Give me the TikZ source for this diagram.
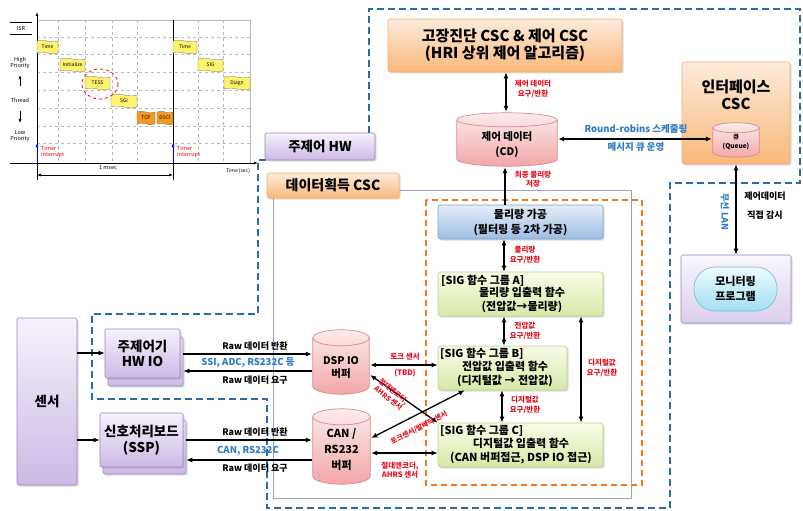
\documentclass[tikz,border=0pt]{standalone}
\usepackage{fontspec}
\setmainfont{Noto Sans CJK KR}
\usetikzlibrary{arrows.meta,calc,shadows}

\definecolor{orT}{HTML}{FDEBDB}
\definecolor{orB}{HTML}{F9B87A}
\definecolor{orD}{HTML}{F0B070}
\definecolor{puT}{HTML}{F6F2FB}
\definecolor{puB}{HTML}{CBBAE5}
\definecolor{puD}{HTML}{9A86C2}
\definecolor{blT}{HTML}{E6EEF8}
\definecolor{blB}{HTML}{9DBDE3}
\definecolor{blD}{HTML}{7A9FD0}
\definecolor{grT}{HTML}{F9FCE8}
\definecolor{grB}{HTML}{D6E9A6}
\definecolor{grD}{HTML}{BCD18C}
\definecolor{pkT}{HTML}{FDECEC}
\definecolor{pkB}{HTML}{F2A6A6}
\definecolor{pkD}{HTML}{D98A8A}
\definecolor{cyT}{HTML}{EDFBFF}
\definecolor{cyB}{HTML}{A2E0EE}
\definecolor{cyD}{HTML}{74B9CC}
\definecolor{dashblue}{HTML}{2A6CAA}
\definecolor{dashorange}{HTML}{F47A1F}
\definecolor{framegray}{HTML}{A29DC6}
\definecolor{labred}{HTML}{E8101E}
\definecolor{labblue}{HTML}{2E7BC4}
\definecolor{flagY}{HTML}{FFF36E}
\definecolor{flagO}{HTML}{F59A1A}

\newcommand\fsz[2]{\fontsize{#1}{#2}\selectfont}
\newcommand\tflag[7]{%
  \filldraw[fill=#5, draw=black!55, line width=0.3pt] (#1,#2) .. controls ({#1+(#3-#1)/3},{#2-3}) and ({#1+2*(#3-#1)/3},{#2+3}) .. (#3,#2) -- (#3,#4) .. controls ({#1+2*(#3-#1)/3},{#4+3}) and ({#1+(#3-#1)/3},{#4-3}) .. (#1,#4) -- cycle;
  \node[flagtxt] (#6) at ({(#1+#3)/2},{(#2+#4)/2}) {#7};}

\tikzset{
  shad/.style={drop shadow={opacity=0.28,shadow xshift=1.5pt,shadow yshift=-1.5pt}},
  obox/.style={rectangle, rounded corners=1.5pt, draw=orD, line width=0.6pt, top color=orT, bottom color=orB, shad, align=center, inner sep=0pt},
  pbox/.style={rectangle, rounded corners=1.5pt, draw=puD, line width=0.6pt, top color=puT, bottom color=puB, shad, align=center, inner sep=0pt},
  bbox/.style={rectangle, rounded corners=2.5pt, draw=blD, line width=0.6pt, top color=blT, bottom color=blB, shad, align=center, inner sep=0pt},
  gbox/.style={rectangle, rounded corners=2.5pt, draw=grD, line width=0.6pt, top color=grT, bottom color=grB, shad, inner sep=0pt},
  txt/.style={inner sep=0pt, align=center},
  redlab/.style={inner sep=0pt, align=center, text=labred, font=\fsz{7.5}{9.5}\bfseries},
  bluelab/.style={inner sep=0pt, align=center, text=labblue, font=\fsz{9.5}{11}\bfseries},
  blklab/.style={inner sep=0pt, align=center, font=\fsz{9}{11}\bfseries},
  conn/.style={line width=1.3pt, draw=black},
  arr/.style={conn, -{Latex[length=6pt,width=5pt]}},
  darr/.style={conn, {Latex[length=6pt,width=5pt]}-{Latex[length=6pt,width=5pt]}},
  smallarr/.style={line width=0.7pt, -{Latex[length=4pt,width=3pt]}},
  flagtxt/.style={inner sep=0pt, font=\fsz{5}{6}},
  charttxt/.style={inner sep=0pt, align=center, font=\fsz{5.5}{6.5}},
  bluedash/.style={draw=dashblue, line width=2.4pt, dash pattern=on 7pt off 4pt},
  orangedash/.style={draw=dashorange, line width=2pt, dash pattern=on 6pt off 4pt},
  cylnode/.style={rectangle, draw=none, inner sep=0pt, path picture={
    \path[top color=pkT, bottom color=pkB, draw=pkD, line width=0.7pt]
      let \p1=(path picture bounding box.north west), \p2=(path picture bounding box.south east), \n1={(\x2-\x1)/2-0.8} in
      (\x1+0.8pt,\y1-#1-0.8pt) -- (\x1+0.8pt,\y2+#1+0.8pt)
      arc[start angle=180,end angle=360,x radius=\n1,y radius=#1]
      -- (\x2-0.8pt,\y1-#1-0.8pt)
      arc[start angle=0,end angle=180,x radius=\n1,y radius=#1] -- cycle;
    \draw[pkD, line width=0.7pt]
      let \p1=(path picture bounding box.north west), \p2=(path picture bounding box.south east), \n1={(\x2-\x1)/2-0.8} in
      (\x1+0.8pt,\y1-#1-0.8pt) arc[start angle=180,end angle=360,x radius=\n1,y radius=#1];
  }},
}

\begin{document}
\begin{tikzpicture}[x=1pt,y=-1pt]
\useasboundingbox (0,0) rectangle (803,511);

% ================= timing chart =================
\draw[gray!55, line width=0.4pt] (37,20) -- (250,20) -- (250,163);
\foreach \yy in {37,54,72,90,108,126,143}
  \draw[gray!55, dashed, line width=0.4pt] (37,\yy) -- (250,\yy);
\foreach \xx in {58,85,112,137,198,223}
  \draw[gray!55, dashed, line width=0.4pt] (\xx,20) -- (\xx,163);
\draw[line width=0.8pt] (173,20) -- (173,180);
\draw[line width=0.8pt, -{Latex[length=4pt,width=3pt]}] (37,180) -- (37,12);
\draw[line width=0.8pt, -{Latex[length=4pt,width=3pt]}] (10,163) -- (258,163);

\tflag{37}{41}{58}{53}{flagY}{fa}{Time}
\tflag{60}{59}{85}{71}{flagY}{fb}{Initialize}
\tflag{85}{77}{110}{89}{flagY}{fc}{TESS}
\tflag{111}{95}{137}{107}{flagY}{fd}{SGI}
\tflag{137}{112}{155}{124}{flagO}{fe}{TCP}
\tflag{157}{112}{173}{124}{flagO}{ff}{DSCI}
\tflag{173}{41}{197}{53}{flagY}{fg}{Time}
\tflag{198}{59}{223}{71}{flagY}{fh}{SIG}
\tflag{224}{77}{250}{89}{flagY}{fi}{Diagn}

\draw[red, dashed, line width=0.8pt] (100,84) ellipse [x radius=18, y radius=15];

\draw[line width=1pt] (10,23) -- (32,23);
\draw[line width=0.6pt] (10,34) -- (32,34);
\node[charttxt] (isr) at (21,28.5) {ISR};
\node[charttxt] (hipri) at (20,63) {High\\Priority};
\draw[smallarr] (20,86) -- (20,75);
\node[charttxt] (thread) at (20,100) {Thread};
\draw[smallarr] (20,111) -- (20,123);
\node[charttxt] (lopri) at (20,136) {Low\\Priority};

\draw[blue, line width=1pt, -{Latex[length=4pt,width=3pt]}] (37,163) -- (37,143);
\draw[blue, line width=1pt, -{Latex[length=4pt,width=3pt]}] (173,163) -- (173,143);
\node[charttxt, text=red, align=left, anchor=north west] (tint1) at (41,146) {Timer\\interrupt};
\node[charttxt, text=red, align=left, anchor=north west] (tint2) at (177,146) {Timer\\interrupt};
\draw[line width=0.6pt, {Latex[length=4pt,width=3pt]}-{Latex[length=4pt,width=3pt]}] (37,175) -- (173,175);
\node[charttxt] (msec) at (108,168) {1 msec};
\node[charttxt, font=\fsz{5}{6}] (tsec) at (238,171) {Time (sec)};

% ================= frames =================
\draw[bluedash] (369,133) -- (369,9) -- (800,9) -- (800,183) -- (670,183) -- (670,508) -- (267,508) -- (267,399) -- (92,399) -- (92,314) -- (258,314) -- (258,160) -- (266,160);
\draw[framegray, line width=0.8pt] (398,190) -- (631,190) -- (631,498) -- (273,498) -- (273,197);
\draw[orangedash] (426,200) rectangle (642,485);

% ================= upper nodes =================
\node[obox, minimum width=234, minimum height=53, font=\fsz{15}{17}\bfseries] (fault) at (505,45.5) {고장진단 CSC \& 제어 CSC\\(HRI 상위 제어 알고리즘)};
\node[cylnode=7pt, minimum width=102, minimum height=55] (cd) at (507,139.5) {};
\node[txt, font=\fsz{10.5}{15}\bfseries] (cdtxt) at (507,145) {제어 데이터\\(CD)};

\node[obox, minimum width=108, minimum height=102] (ifc) at (736,113) {};
\node[txt, font=\fsz{15}{16.5}\bfseries] (ifctxt) at (736,95) {인터페이스\\CSC};
\node[cylnode=5pt, minimum width=48, minimum height=36] (queue) at (736,140) {};
\node[txt, font=\fsz{6.5}{9}\bfseries] (queuetxt) at (736,142.5) {큐\\(Queue)};

\node[pbox, minimum width=110, minimum height=68, top color=puT!70, bottom color=puB!70] (mon) at (736,289) {};
\node[draw=cyD, line width=0.6pt, rounded corners=21pt, top color=cyT, bottom color=cyB, minimum width=83, minimum height=44, inner sep=0pt, align=center, font=\fsz{11}{14.5}\bfseries] (pill) at (735.5,289) {모니터링\\프로그램};

\node[pbox, minimum width=110, minimum height=27, font=\fsz{13.5}{15}\bfseries] (hw) at (320,146.5) {주제어 HW};
\node[obox, minimum width=132, minimum height=25, font=\fsz{14}{15}\bfseries] (dcsc) at (333,185.5) {데이터획득 CSC};

% ================= acquisition internals =================
\node[bbox, minimum width=165, minimum height=34, font=\fsz{11}{15}\bfseries] (phys) at (520.5,222) {물리량 가공\\(필터링 등 2차 가공)};

\node[gbox, minimum width=165, minimum height=44] (siga) at (520.5,294) {};
\node[txt, anchor=west, font=\fsz{11}{13}\bfseries] (sigah) at (441,280.5) {[SIG 함수 그룹 A]};
\node[txt, font=\fsz{11}{14}\bfseries] (sigat) at (522,300) {물리량 입출력 함수\\(전압값→물리량)};

\node[gbox, minimum width=129, minimum height=44] (sigb) at (502.5,368) {};
\node[txt, anchor=west, font=\fsz{11}{13}\bfseries] (sigbh) at (440,354) {[SIG 함수 그룹 B]};
\node[txt, font=\fsz{11}{13.5}\bfseries] (sigbt) at (505,374) {전압값 입출력 함수\\(디지털값 → 전압값)};

\node[gbox, minimum width=165, minimum height=44] (sigc) at (520.5,445) {};
\node[txt, anchor=west, font=\fsz{11}{13}\bfseries] (sigch) at (440,431) {[SIG 함수 그룹 C]};
\node[txt, font=\fsz{11}{13.5}\bfseries] (sigct) at (521,451) {디지털값 입출력 함수\\(CAN 버퍼접근, DSP IO 접근)};

% ================= left side =================
\node[pbox, minimum width=60, minimum height=167, font=\fsz{13.5}{15}\bfseries] (sensor) at (47,401.5) {센서};

\node[pbox, minimum width=75, minimum height=49] (hwioB) at (145.5,361.5) {};
\node[pbox, minimum width=75, minimum height=49, font=\fsz{13.5}{15.5}\bfseries] (hwio) at (142.5,353.5) {주제어기\\HW IO};

\node[pbox, minimum width=83, minimum height=54] (sspB) at (144.5,447) {};
\node[pbox, minimum width=83, minimum height=54, font=\fsz{13.5}{16}\bfseries] (ssp) at (141.5,440) {신호처리보드\\(SSP)};

\node[cylnode=8pt, minimum width=58, minimum height=66] (dsp) at (341,362) {};
\node[txt, font=\fsz{10.5}{13}\bfseries] (dsptxt) at (341,367.5) {DSP IO\\버퍼};
\node[cylnode=8pt, minimum width=59, minimum height=77] (can) at (341.5,446.5) {};
\node[txt, font=\fsz{11}{16}\bfseries] (cantxt) at (341.5,450) {CAN /\\RS232\\버퍼};

% ================= connectors =================
\draw[darr] (fault.south -| 506,0) -- (cd.north -| 506,0);
\node[redlab] (l1) at (533,89) {제어 데이터\\요구/반환};
\draw[arr] (phys.north -| 505,0) -- (cd.south -| 505,0);
\node[redlab] (l2) at (533,179) {최종 물리량\\저장};
\draw[darr] (cd.east |- 0,139) -- (queue.west |- 0,139);
\node[bluelab] (rr) at (636,129) {Round-robins 스케줄링};
\node[bluelab] (mq) at (636,147) {메시지 큐 운영};
\draw[darr] (ifc.south) -- (mon.north);
\node[bluelab, rotate=-90, font=\fsz{9}{10}\bfseries] (wlan) at (725,212) {무선 LAN};
\node[blklab, font=\fsz{9}{19}\bfseries] (direct) at (765,206) {제어데이터\\직접 감시};

\draw[darr] (phys.south -| 504,0) -- (siga.north -| 504,0);
\node[redlab] (l3) at (525,255) {물리량\\요구/반환};
\draw[darr] (siga.south -| 504,0) -- (sigb.north -| 504,0);
\node[redlab] (l4) at (525,331) {전압값\\요구/반환};
\draw[darr] (sigb.south -| 502,0) -- (sigc.north -| 502,0);
\node[redlab] (l5) at (525,405) {디지털값\\요구/반환};
\draw[darr] (siga.south -| 581,0) -- (sigc.north -| 581,0);
\node[redlab] (l6) at (602,368) {디지털값\\요구/반환};

\draw[arr] (sensor.east |- 0,353) -- (hwio.west |- 0,353);
\draw[arr] (sensor.east |- 0,440) -- (ssp.west |- 0,440);

\draw[arr] (hwioB.east |- 0,354) -- (dsp.west |- 0,354);
\draw[arr] (dsp.west |- 0,371) -- (hwioB.east |- 0,371);
\node[blklab] (r1) at (255,346) {Raw 데이터 반환};
\node[bluelab] (ssi) at (248,363) {SSI, ADC, RS232C 등};
\node[blklab] (r2) at (255,380) {Raw 데이터 요구};

\draw[arr] (sspB.east |- 0,440) -- (can.west |- 0,440);
\draw[arr] (can.west |- 0,460) -- (sspB.east |- 0,460);
\node[blklab] (r3) at (255,432) {Raw 데이터 반환};
\node[bluelab] (canl) at (248,451) {CAN, RS232C};
\node[blklab] (r4) at (255,468) {Raw 데이터 요구};

\draw[darr] (dsp.east |- 0,365) -- (sigb.west |- 0,365);
\node[redlab] (tq) at (405,357) {토크 센서};
\node[redlab] (tbd) at (405,373) {(TBD)};
\draw[darr] (dsp.east |- 0,375) -- (sigc.north west);
\node[redlab, rotate=-38.6, font=\fsz{7}{8.5}\bfseries] (abs1) at (391,395) {절대엔코더,\\AHRS 센서};
\draw[darr] (can.east |- 0,438) -- ($(sigb.south west)+(27,0)$);
\node[redlab, rotate=26.8, font=\fsz{7}{8.5}\bfseries] (tfoot) at (419,428) {토크센서/발바닥 센서};
\draw[darr] (can.east |- 0,453) -- (sigc.west |- 0,453);
\node[redlab] (abs2) at (400,470) {절대엔코더,\\AHRS 센서};

\end{tikzpicture}
\end{document}
